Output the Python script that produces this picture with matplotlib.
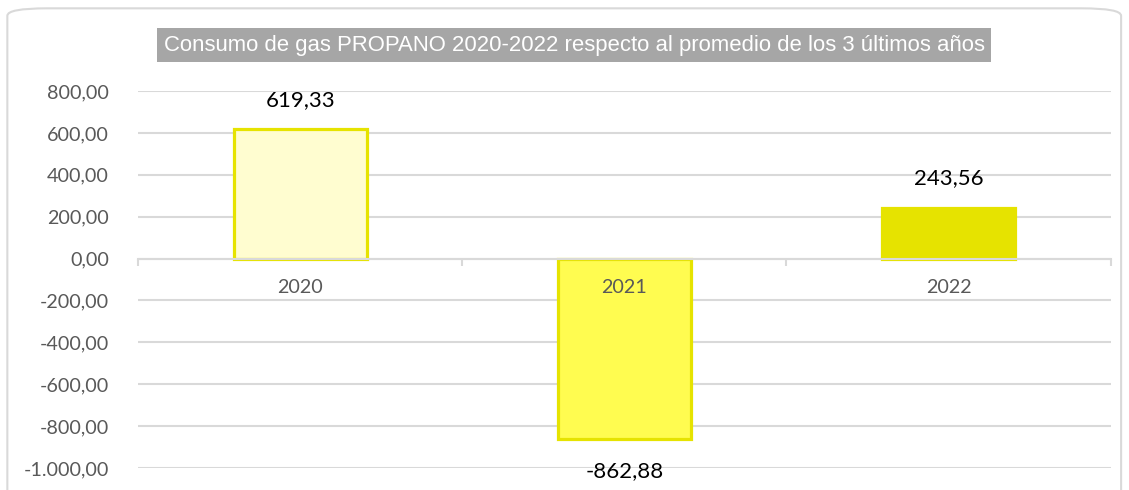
"""Bar chart of propane gas consumption 2020-2022 relative to the 3-year average.

Produces ``out.png`` -- one bar per year, positive and negative deviations
drawn from the zero line, with data labels and a boxed title.
"""

from __future__ import annotations

import matplotlib

matplotlib.use("Agg")
import matplotlib.pyplot as plt  # noqa: E402
import numpy as np  # noqa: E402
from matplotlib.patches import FancyBboxPatch  # noqa: E402
from matplotlib.ticker import FuncFormatter  # noqa: E402

YEARS = ["2020", "2021", "2022"]
DEVIATIONS = [619.33, -862.88, 243.56]
FACE_COLORS = ["#FFFDD0", "#FFFC50", "#E6E300"]
EDGE_COLOR = "#E6E300"
YTICKS = np.arange(-1000, 801, 200)
TITLE = "Consumo de gas PROPANO 2020-2022 respecto al promedio de los 3 últimos años"

GRID_COLOR = "#D9D9D9"
TICK_COLOR = "#595959"
TITLE_FONT_SIZE = 15.9
AXIS_TICKS_FONT_SIZE = 14.2
LABEL_FONT_SIZE = 16


def spanish_number(value: float, _pos=None) -> str:
    """Format a number as ``-1.000,00`` (dot thousands, comma decimals)."""
    text = f"{value:,.2f}"
    return text.replace(",", "X").replace(".", ",").replace("X", ".")


def plot_deviation_bars(output_path: str) -> None:
    """Draw the yearly deviation bars and save them.

    Args:
        output_path: Destination PNG path.
    """
    fig = plt.figure(figsize=(11.29, 4.90), dpi=100)
    ax = fig.add_axes([0.1222, 0.0449, 0.8616, 0.7694])

    # rounded chart frame, cut off at the bottom like the source
    frame = FancyBboxPatch(
        (0.0065, -0.2), 0.9865, 1.183,
        boxstyle="round,pad=0,rounding_size=0.035",
        transform=fig.transFigure, facecolor="white", edgecolor=GRID_COLOR,
        linewidth=1.5, zorder=-10, mutation_aspect=490 / 1129,
    )
    fig.patches.append(frame)

    x = np.arange(len(YEARS))
    ax.bar(x, DEVIATIONS, width=0.41, color=FACE_COLORS, edgecolor=EDGE_COLOR,
           linewidth=2.3, zorder=2)

    for xi, value in zip(x, DEVIATIONS):
        offset = 21 if value >= 0 else -23
        ax.annotate(spanish_number(value), (xi, value), xytext=(0, offset),
                    textcoords="offset points", ha="center", va="center",
                    fontsize=LABEL_FONT_SIZE, color="black", family="Lato")

    ax.set_xlim(-0.5, len(YEARS) - 0.5)
    ax.set_ylim(-1000, 800)
    ax.set_yticks(YTICKS)
    ax.yaxis.set_major_formatter(FuncFormatter(spanish_number))
    ax.tick_params(axis="y", length=0, pad=21, labelsize=AXIS_TICKS_FONT_SIZE,
                   labelcolor=TICK_COLOR)
    for label in ax.get_yticklabels():
        label.set_family("Lato")

    # category axis sits on the zero line
    ax.spines["bottom"].set_position(("data", 0))
    ax.spines["bottom"].set_color(GRID_COLOR)
    ax.spines["bottom"].set_linewidth(1.5)
    for side in ("top", "right", "left"):
        ax.spines[side].set_visible(False)
    ax.set_xticks(np.arange(-0.5, len(YEARS)))
    ax.set_xticklabels([])
    ax.tick_params(axis="x", which="major", length=5, width=1.5, color=GRID_COLOR)
    ax.set_xticks(x, minor=True)
    ax.set_xticklabels(YEARS, minor=True, family="Lato", fontsize=AXIS_TICKS_FONT_SIZE,
                       color=TICK_COLOR)
    ax.tick_params(axis="x", which="minor", length=0, pad=15)

    ax.grid(True, axis="y", color=GRID_COLOR, linewidth=1.5)
    ax.set_axisbelow(True)
    ax.xaxis.set_zorder(4)  # year labels stay on top of the bars

    fig.text(0.5085, 0.908, TITLE, ha="center", va="center", color="white",
             fontsize=TITLE_FONT_SIZE, family="Liberation Sans",
             bbox=dict(boxstyle="square,pad=0.28", facecolor="#A6A6A6", edgecolor="none"))

    fig.savefig(output_path, dpi=100)
    plt.close(fig)


def main() -> None:
    """Build the chart."""
    plot_deviation_bars("out.png")


if __name__ == "__main__":
    main()
